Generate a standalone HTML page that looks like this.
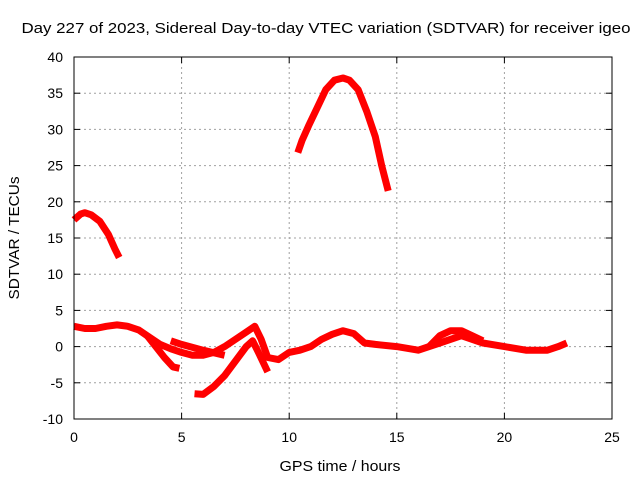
<!DOCTYPE html>
<html><head><meta charset="utf-8"><style>
html,body{margin:0;padding:0;background:#fff}
svg{display:block;font-family:"Liberation Sans",sans-serif}
</style></head><body>
<svg id="chart" width="640" height="480">
<text x="326" y="33" text-anchor="middle" font-size="15" textLength="609" lengthAdjust="spacingAndGlyphs">Day 227 of 2023, Sidereal Day-to-day VTEC variation (SDTVAR) for receiver igeo</text>
<text x="340" y="471" text-anchor="middle" font-size="15" textLength="121" lengthAdjust="spacingAndGlyphs">GPS time / hours</text>
<text transform="translate(19,238) rotate(-90)" text-anchor="middle" font-size="15" textLength="123" lengthAdjust="spacingAndGlyphs">SDTVAR / TECUs</text>
<g id="grid"></g><g id="series"></g><g id="axes"></g>
</svg>
<script>
const xTicks=[0,5,10,15,20,25];
const yTicks=[-10,-5,0,5,10,15,20,25,30,35,40];
const segATime=[0,0.3,0.5,0.8,1.2,1.6,1.9,2.1];
const segAVal=[17.5,18.3,18.5,18.2,17.3,15.5,13.5,12.3];
const segBTime=[10.4,10.6,10.9,11.3,11.7,12.1,12.5,12.8,13.2,13.6,14,14.3,14.6];
const segBVal=[26.8,28.5,30.5,33,35.5,36.8,37.1,36.8,35.5,32.5,29,25,21.5];
const mainTime=[0,0.5,1,1.5,2,2.5,3,3.5,4,4.5,5,5.5,6,6.5,7,7.5,8,8.4,8.7,9,9.5,10,10.5,11,11.5,12,12.5,13,13.5,14,15,16,17,18,19,20,21,22,22.5,22.9];
const mainVal=[2.8,2.5,2.5,2.8,3,2.8,2.3,1.3,0.3,-0.3,-0.8,-1.2,-1.2,-0.8,0,1,2,2.8,1,-1.5,-1.8,-0.8,-0.5,0,1,1.7,2.2,1.8,0.5,0.3,0,-0.5,0.5,1.5,0.5,0,-0.5,-0.5,0,0.5];
const br1Time=[3.4,3.8,4.2,4.6,4.9];
const br1Val=[1.5,0,-1.5,-2.8,-3];
const br2Time=[4.5,5,6,7];
const br2Val=[0.8,0.3,-0.5,-1.2];
const br3Time=[5.6,6,6.5,7,7.5,8,8.3,8.6,9];
const br3Val=[-6.5,-6.6,-5.5,-4,-2,0,0.8,-1,-3.5];
const br4Time=[16.5,17,17.5,18,18.5,19];
const br4Val=[0,1.5,2.2,2.2,1.5,0.8];
const L=74,R=612,T=57,B=419;
const sx=v=>L+(v-0)/25*(R-L);
const sy=v=>B-(v+10)/50*(B-T);
const NS='http://www.w3.org/2000/svg';
function mk(tag,attrs,parent){const e=document.createElementNS(NS,tag);for(const k in attrs)e.setAttribute(k,attrs[k]);parent.appendChild(e);return e;}
const grid=document.getElementById('grid'),axes=document.getElementById('axes'),series=document.getElementById('series');
xTicks.forEach(t=>{
 if(t>0&&t<25){const g=mk('line',{x1:sx(t),x2:sx(t),y1:T,y2:B,stroke:'#a0a0a0','stroke-dasharray':'2,3'},grid);
 
 }
 const tl=mk('text',{x:sx(t),y:B+23,'text-anchor':'middle','font-size':14},axes);tl.textContent=t;
 
 
 mk('line',{x1:sx(t),x2:sx(t),y1:B,y2:B-6,stroke:'#000'},axes);
 mk('line',{x1:sx(t),x2:sx(t),y1:T,y2:T+6,stroke:'#000'},axes);
});
yTicks.forEach(t=>{
 if(t>-10&&t<40){const g=mk('line',{x1:L,x2:R,y1:sy(t),y2:sy(t),stroke:'#a0a0a0','stroke-dasharray':'2,3'},grid);
 
 }
 const tl=mk('text',{x:L-11,y:sy(t)+5,'text-anchor':'end','font-size':14},axes);tl.textContent=t;
 
 
 mk('line',{x1:L,x2:L+6,y1:sy(t),y2:sy(t),stroke:'#000'},axes);
 mk('line',{x1:R,x2:R-6,y1:sy(t),y2:sy(t),stroke:'#000'},axes);
});
const fr=mk('rect',{x:L,y:T,width:R-L,height:B-T,fill:'none',stroke:'#000'},axes);


function line(ts,vs,name){
 const p=ts.map((t,i)=>sx(t).toFixed(1)+','+sy(vs[i]).toFixed(1)).join(' ');
 const e=mk('polyline',{points:p,fill:'none',stroke:'#ff0000','stroke-width':7,'stroke-linejoin':'round'},series);
 
 
}
line(segATime,segAVal,'series-early-arc');
line(segBTime,segBVal,'series-midday-arc');
line(mainTime,mainVal,'series-main-band');
line(br1Time,br1Val,'series-branch-1');
line(br2Time,br2Val,'series-branch-2');
line(br3Time,br3Val,'series-branch-3');
line(br4Time,br4Val,'series-branch-4');
</script>
</body></html>
